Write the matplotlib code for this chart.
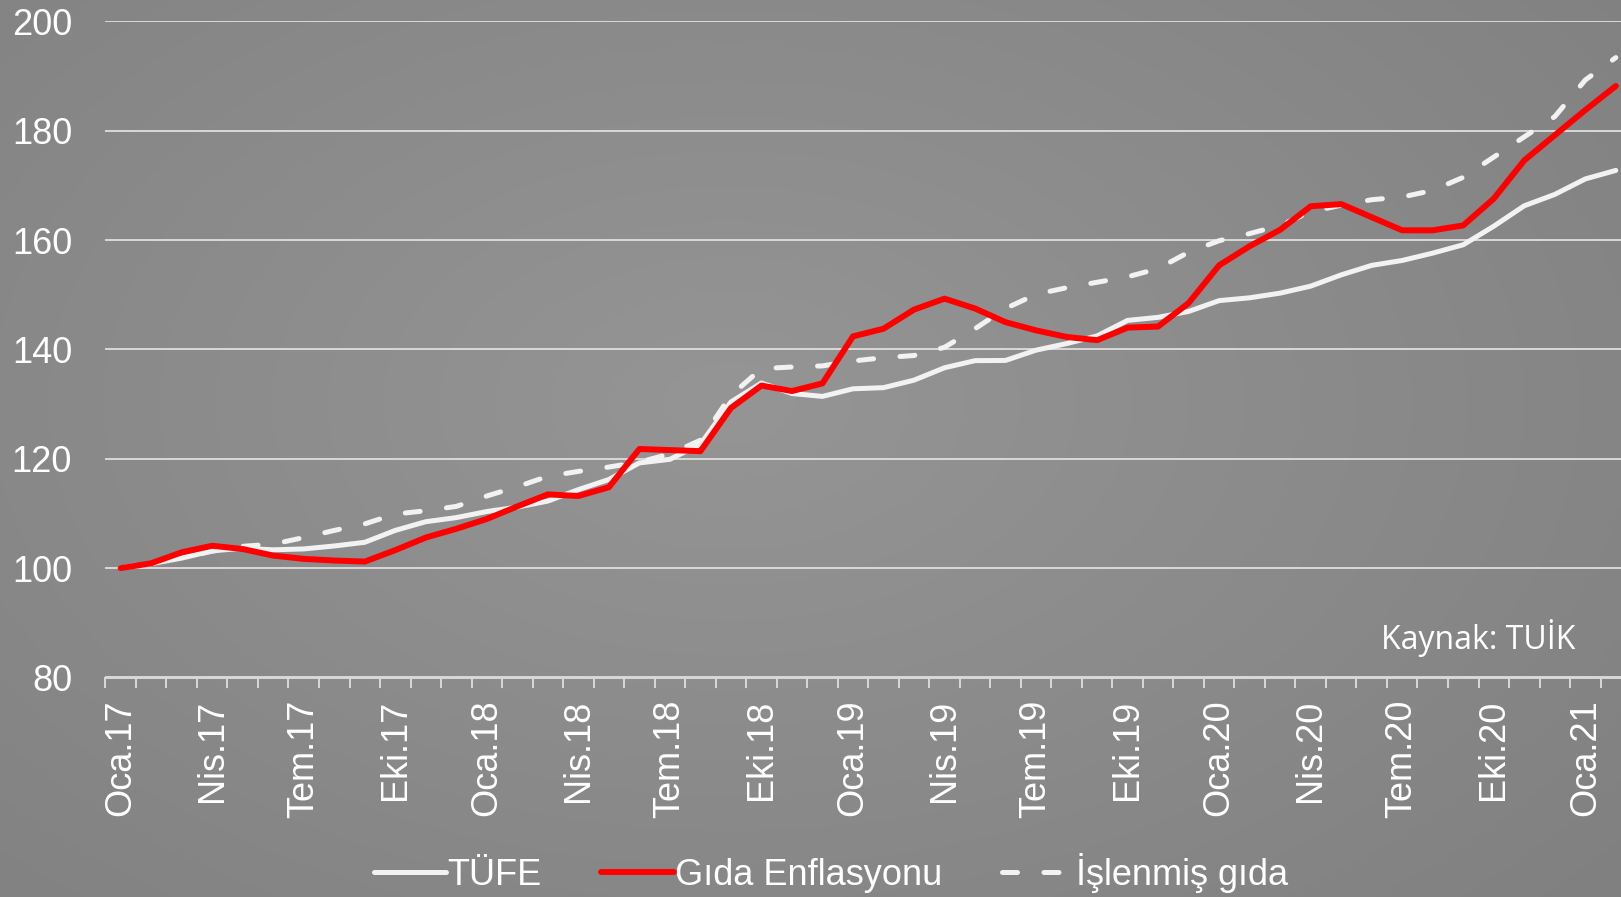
import numpy as np
import matplotlib
matplotlib.use("Agg")
import matplotlib.pyplot as plt
from matplotlib.lines import Line2D

plt.rcParams['font.family'] = ['Liberation Sans', 'DejaVu Sans']

# aylar: Oca.17 - Şub.21
aylar = ['Oca', 'Şub', 'Mar', 'Nis', 'May', 'Haz', 'Tem', 'Ağu', 'Eyl', 'Eki', 'Kas', 'Ara']
etiketler = [f"{aylar[k % 12]}.{17 + k // 12}" for k in range(50)]

tufe = [100.00, 100.81, 101.84, 103.17, 103.64, 103.36, 103.52, 104.06, 104.73, 106.91,
        108.50, 109.25, 110.36, 111.17, 112.27, 114.37, 116.22, 119.25, 119.91, 122.67,
        130.40, 133.88, 131.95, 131.42, 132.81, 133.02, 134.39, 136.66, 137.96, 138.00,
        139.88, 141.08, 142.48, 145.33, 145.88, 146.96, 148.94, 149.46, 150.31, 151.59,
        153.65, 155.39, 156.29, 157.63, 159.16, 162.55, 166.29, 168.37, 171.20, 172.76]

gida = [100.0, 100.9, 102.9, 104.1, 103.5, 102.3, 101.7, 101.4, 101.2, 103.3,
        105.6, 107.2, 109.0, 111.3, 113.5, 113.2, 114.8, 121.8, 121.6, 121.4,
        129.3, 133.4, 132.4, 133.8, 142.4, 143.8, 147.3, 149.3, 147.5, 145.0,
        143.5, 142.3, 141.7, 144.0, 144.2, 148.5, 155.4, 158.9, 161.9, 166.2,
        166.6, 164.2, 161.8, 161.8, 162.7, 167.6, 174.6, 179.2, 183.8, 188.2]

islenmis = [100.0, 101.1, 101.9, 103.1, 104.0, 104.4, 105.6, 106.9, 108.1, 109.9,
            110.5, 111.3, 113.2, 114.9, 116.8, 117.7, 118.5, 119.4, 120.9, 123.4,
            131.6, 136.5, 136.8, 137.0, 137.9, 138.5, 138.9, 140.4, 143.8, 147.5,
            150.1, 151.3, 152.3, 153.3, 154.8, 157.8, 159.9, 161.2, 162.7, 165.2,
            166.4, 167.4, 167.9, 169.1, 171.5, 175.2, 178.9, 182.6, 189.3, 193.4]

W, H = 1621, 897
fig = plt.figure(figsize=(W / 100, H / 100), dpi=100)

# gri radyal arka plan
bg = fig.add_axes([0, 0, 1, 1], zorder=-1)
yy, xx = np.mgrid[0:1:300j, 0:1:540j]
r = np.sqrt(((xx - 0.45) / 0.75) ** 2 + ((yy - 0.45) / 0.85) ** 2)
g = 0.585 - 0.085 * np.clip(r, 0, 1.2)
bg.imshow(np.dstack([g, g, g]), aspect='auto', extent=[0, 1, 0, 1])
bg.axis('off')

x = np.arange(len(tufe))
left = 105.4 / W
bottom = 1 - 677.5 / H
ax = fig.add_axes([left, bottom, 1 - left, (677.5 - 21.5) / H])
ax.set_facecolor('none')

ax.plot(x, tufe, color='#f2f2f2', lw=3.6, solid_capstyle='round', zorder=3)
ax.plot(x, gida, color='#ff0000', lw=4.3, solid_capstyle='round', zorder=4)
ax.plot(x, islenmis, color='#f2f2f2', lw=3.6, ls=(0, (3, 5.3)),
        dash_capstyle='round', zorder=2)

ax.set_xlim(-0.5, 49.17)
ax.set_ylim(80, 200)
ax.set_yticks(range(80, 201, 20))
ax.yaxis.grid(True, color='#d9d9d9', lw=1.4)
ax.set_axisbelow(True)
for s in ['top', 'right', 'left']:
    ax.spines[s].set_visible(False)
ax.spines['bottom'].set_color('#d9d9d9')
ax.spines['bottom'].set_linewidth(1.4)

ax.set_xticks(x[::3])
ax.set_xticklabels(etiketler[::3], rotation=90, fontsize=26, color='white')
ax.set_xticks(np.arange(-0.5, 49.5, 1), minor=True)
ax.tick_params(axis='x', which='major', length=0, pad=16)
ax.tick_params(axis='x', which='minor', length=7.2, width=1.4, color='#d9d9d9')
ax.tick_params(axis='y', length=0, pad=24, labelsize=26, labelcolor='white')

fig.text(1575 / W, 1 - 638 / H, 'Kaynak: TUİK', ha='right', va='center',
         fontsize=23, color='white', family=['Open Sans', 'DejaVu Sans'])

handles = [Line2D([], [], color='#f2f2f2', lw=3.6, solid_capstyle='round'),
           Line2D([], [], color='#ff0000', lw=4.3, solid_capstyle='round'),
           Line2D([], [], color='#f2f2f2', lw=3.6, ls=(0, (3, 5.3)), dash_capstyle='round')]
leg = fig.legend(handles, ['TÜFE', 'Gıda Enflasyonu', 'İşlenmiş gıda'],
                 loc='center', bbox_to_anchor=(831 / W, 1 - 873 / H), ncol=3,
                 frameon=False, fontsize=26, handlelength=2.0, handletextpad=0.05,
                 columnspacing=1.65, labelcolor='white')

fig.savefig('out.png', dpi=100)
